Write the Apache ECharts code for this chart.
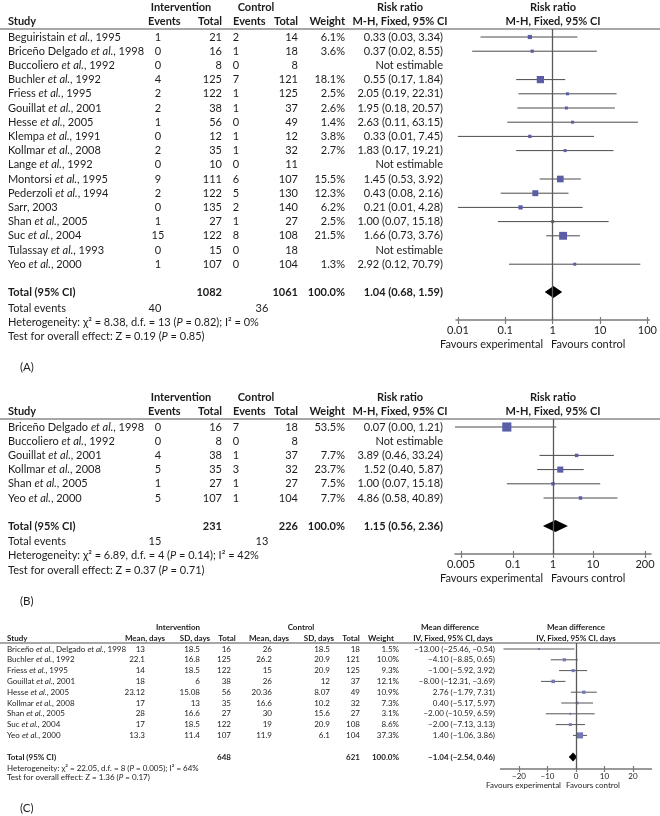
<!DOCTYPE html>
<html><head><meta charset="utf-8">
<script src="https://cdn.jsdelivr.net/npm/echarts@6/dist/echarts.min.js"></script>
<style>html,body{margin:0;padding:0;background:#fff}#c{width:660px;height:816px}</style>
</head><body><div id="c"></div><script>
// ================= DATA =================
// ---- Panel A ----
const studiesA = ['Beguiristain et al., 1995','Briceño Delgado et al., 1998','Buccoliero et al., 1992','Buchler et al., 1992','Friess et al., 1995','Gouillat et al., 2001','Hesse et al., 2005','Klempa et al., 1991','Kollmar et al., 2008','Lange et al., 1992','Montorsi et al., 1995','Pederzoli et al., 1994','Sarr, 2003','Shan et al., 2005','Suc et al., 2004','Tulassay et al., 1993','Yeo et al., 2000'];
const intEventsA = [1,0,0,4,2,2,1,0,2,0,9,2,0,1,15,0,1];
const intTotalA = [21,16,8,125,122,38,56,12,35,10,111,122,135,27,122,15,107];
const ctrlEventsA = [2,1,0,7,1,1,0,1,1,0,6,5,2,1,8,0,0];
const ctrlTotalA = [14,18,8,121,125,37,49,12,32,11,107,130,140,27,108,18,104];
const weightA = [6.1,3.6,null,18.1,2.5,2.6,1.4,3.8,2.7,null,15.5,12.3,6.2,2.5,21.5,null,1.3];
const rrA = [0.33,0.37,null,0.55,2.05,1.95,2.63,0.33,1.83,null,1.45,0.43,0.21,1.00,1.66,null,2.92];
const loA = [0.03,0.02,null,0.17,0.19,0.18,0.11,0.01,0.17,null,0.53,0.08,0.01,0.07,0.73,null,0.12];
const hiA = [3.34,8.55,null,1.84,22.31,20.57,63.15,7.45,19.21,null,3.92,2.16,4.28,15.18,3.76,null,70.79];
const totalsA = [1082, 1061];
const totalEventsA = [40, 36];
const pooledA = [1.04, 0.68, 1.59];
const hetA = 'Heterogeneity: χ² = 8.38, d.f. = 13 (P = 0.82); I² = 0%';
const testA = 'Test for overall effect: Z = 0.19 (P = 0.85)';
const tickValuesA = [0.01, 0.1, 1, 10, 100];
const tickLabelsA = ['0.01','0.1','1','10','100'];

// ---- Panel B ----
const studiesB = ['Briceño Delgado et al., 1998','Buccoliero et al., 1992','Gouillat et al., 2001','Kollmar et al., 2008','Shan et al., 2005','Yeo et al., 2000'];
const intEventsB = [0,0,4,5,1,5];
const intTotalB = [16,8,38,35,27,107];
const ctrlEventsB = [7,0,1,3,1,1];
const ctrlTotalB = [18,8,37,32,27,104];
const weightB = [53.5,null,7.7,23.7,7.5,7.7];
const rrB = [0.07,null,3.89,1.52,1.00,4.86];
const loB = [0.00,null,0.46,0.40,0.07,0.58];
const hiB = [1.21,null,33.24,5.87,15.18,40.89];
const totalsB = [231, 226];
const totalEventsB = [15, 13];
const pooledB = [1.15, 0.56, 2.36];
const hetB = 'Heterogeneity: χ² = 6.89, d.f. = 4 (P = 0.14); I² = 42%';
const testB = 'Test for overall effect: Z = 0.37 (P = 0.71)';
const tickValuesB = [0.005, 0.1, 1, 10, 200];
const tickLabelsB = ['0.005','0.1','1','10','200'];

// ---- Panel C ----
const studiesC = ['Briceño et al., Delgado et al., 1998','Buchler et al., 1992','Friess et al., 1995','Gouillat et al., 2001','Hesse et al., 2005','Kollmar et al., 2008','Shan et al., 2005','Suc et al., 2004','Yeo et al., 2000'];
const intMeanC = ['13','22.1','14','18','23.12','17','28','17','13.3'];
const intSDC = ['18.5','16.8','18.5','6','15.08','13','16.6','18.5','11.4'];
const intTotalC = [16,125,122,38,56,35,27,122,107];
const ctrlMeanC = ['26','26.2','15','26','20.36','16.6','30','19','11.9'];
const ctrlSDC = ['18.5','20.9','20.9','12','8.07','10.2','15.6','20.9','6.1'];
const ctrlTotalC = [18,121,125,37,49,32,27,108,104];
const weightC = [1.5,10.0,9.3,12.1,10.9,7.3,3.1,8.6,37.3];
const mdC = [-13.00,-4.10,-1.00,-8.00,2.76,0.40,-2.00,-2.00,1.40];
const loC = [-25.46,-8.85,-5.92,-12.31,-1.79,-5.17,-10.59,-7.13,-1.06];
const hiC = [-0.54,0.65,3.92,-3.69,7.31,5.97,6.59,3.13,3.86];
const totalsC = [648, 621];
const pooledC = [-1.04, -2.54, 0.46];
const hetC = 'Heterogeneity: χ² = 22.05, d.f. = 8 (P = 0.005); I² = 64%';
const testC = 'Test for overall effect: Z = 1.36 (P = 0.17)';
const tickValuesC = [-20, -10, 0, 10, 20];
const tickLabelsC = ['−20','−10','0','10','20'];

// ================= LAYOUT =================
const FONT = "Lato, 'Liberation Sans', sans-serif";
const TXT = '#1c1c1c';
const LA = {y0:37, pitch:14.2, top:0, bottom:385, lineY:29, axisY:320, h1:7, h2:21, totalY:292, eventsY:308, hetY:322, testY:336, favY:344, tagY:367,
  plotLeft:456, plotWidth:194, xmin:-2.04, xmax:2.04, fs:11, k:1.7, minSide:3};
const LB = {y0:427, pitch:14.2, top:385, bottom:616, lineY:419, axisY:554, h1:397, h2:411, totalY:526, eventsY:541, hetY:555, testY:570, favY:578, tagY:601,
  plotLeft:455, plotWidth:196, xmin:-2.45, xmax:2.45, fs:11, k:1.25, minSide:3};
const LC = {y0:649, pitch:10.8, top:616, bottom:816, lineY:643, axisY:769, h1:627, h2:638, totalY:757, hetY:768, testY:777, favY:785, tagY:808,
  plotLeft:500.5, plotWidth:151, xmin:-26.5, xmax:26.5, fs:8, k:1.0, minSide:2};
const colsRR = {study:8, ie:158, it:222, ce:236, ct:298, w:345, ci:443, hInt:181, hCtrl:256, hRR:400, hPlot:553, hEv1:148, hEv2:233, ev1:155, ev2:262};
const colsC = {study:7, im:145, is:200, it:231, cm:272, cs:330, ct:360, w:399, ci:495,
  hInt:178, hCtrl:301, hMD:450, hPlot:576, hIm:145, hIs:195, hIt:227, hCm:269, hCs:319, hCt:351, hW:381, hCI:453};

// ================= HELPERS =================
const rowOf = (L, y) => (y - L.y0) / L.pitch;
const richify = s => s.replace(/et al\./g, '{i|et al.}').replace(/\(P = /g, '({i|P} = ');
const f2 = v => (v < 0 ? '−' : '') + Math.abs(v).toFixed(2);
const ciText = (e, l, h) => `${f2(e)} (${f2(l)}, ${f2(h)})`;

function makeText(items, L) {
  return (x, y, text, align, o = {}) => items.push({kind:'text', x, row: rowOf(L, y), text, align, size: o.size || L.fs, bold: !!o.bold});
}

function buildRR(L, C, d) {
  const items = [];
  const t = makeText(items, L);
  const B = {bold:true};
  t(C.hInt, L.h1, 'Intervention', 'center', B);
  t(C.hCtrl, L.h1, 'Control', 'center', B);
  t(C.hRR, L.h1, 'Risk ratio', 'center', B);
  t(C.hPlot, L.h1, 'Risk ratio', 'center', B);
  t(C.study, L.h2, 'Study', 'left', B);
  t(C.hEv1, L.h2, 'Events', 'left', B);
  t(C.it, L.h2, 'Total', 'right', B);
  t(C.hEv2, L.h2, 'Events', 'left', B);
  t(C.ct, L.h2, 'Total', 'right', B);
  t(C.w, L.h2, 'Weight', 'right', B);
  t(C.hRR, L.h2, 'M-H, Fixed, 95% CI', 'center', B);
  t(C.hPlot, L.h2, 'M-H, Fixed, 95% CI', 'center', B);
  items.push({kind:'line', x:0, x2:660, row: rowOf(L, L.lineY)});
  d.studies.forEach((s, i) => {
    const y = L.y0 + i * L.pitch;
    t(C.study, y, s, 'left');
    t(C.ie, y, String(d.ie[i]), 'center');
    t(C.it, y, String(d.it[i]), 'right');
    t(C.ce, y, String(d.ce[i]), 'center');
    t(C.ct, y, String(d.ct[i]), 'right');
    if (d.w[i] != null) t(C.w, y, d.w[i].toFixed(1) + '%', 'right');
    t(C.ci, y, d.rr[i] == null ? 'Not estimable' : ciText(d.rr[i], d.lo[i], d.hi[i]), 'right');
  });
  t(C.study, L.totalY, 'Total (95% CI)', 'left', B);
  t(C.it, L.totalY, String(d.totals[0]), 'right', B);
  t(C.ct, L.totalY, String(d.totals[1]), 'right', B);
  t(C.w, L.totalY, '100.0%', 'right', B);
  t(C.ci, L.totalY, ciText(d.pooled[0], d.pooled[1], d.pooled[2]), 'right', B);
  t(C.study, L.eventsY, 'Total events', 'left');
  t(C.ev1, L.eventsY, String(d.events[0]), 'center');
  t(C.ev2, L.eventsY, String(d.events[1]), 'center');
  t(C.study, L.hetY, d.het, 'left');
  t(C.study, L.testY, d.test, 'left');
  t(543, L.favY, 'Favours experimental', 'right');
  t(551, L.favY, 'Favours control', 'left');
  t(20, L.tagY, d.tag, 'left', {size: 11.5});
  return items;
}

function buildC(L, C) {
  const items = [];
  const t = makeText(items, L);
  const B = {bold:true};
  t(C.hInt, L.h1, 'Intervention', 'center', B);
  t(C.hCtrl, L.h1, 'Control', 'center', B);
  t(C.hMD, L.h1, 'Mean difference', 'center', B);
  t(C.hPlot, L.h1, 'Mean difference', 'center', B);
  t(C.study, L.h2, 'Study', 'left', B);
  t(C.hIm, L.h2, 'Mean, days', 'center', B);
  t(C.hIs, L.h2, 'SD, days', 'center', B);
  t(C.hIt, L.h2, 'Total', 'center', B);
  t(C.hCm, L.h2, 'Mean, days', 'center', B);
  t(C.hCs, L.h2, 'SD, days', 'center', B);
  t(C.hCt, L.h2, 'Total', 'center', B);
  t(C.hW, L.h2, 'Weight', 'center', B);
  t(C.hCI, L.h2, 'IV, Fixed, 95% CI, days', 'center', B);
  t(C.hPlot, L.h2, 'IV, Fixed, 95% CI, days', 'center', B);
  items.push({kind:'line', x:0, x2:660, row: rowOf(L, L.lineY)});
  studiesC.forEach((s, i) => {
    const y = L.y0 + i * L.pitch;
    t(C.study, y, s, 'left');
    t(C.im, y, intMeanC[i], 'right');
    t(C.is, y, intSDC[i], 'right');
    t(C.it, y, String(intTotalC[i]), 'right');
    t(C.cm, y, ctrlMeanC[i], 'right');
    t(C.cs, y, ctrlSDC[i], 'right');
    t(C.ct, y, String(ctrlTotalC[i]), 'right');
    t(C.w, y, weightC[i].toFixed(1) + '%', 'right');
    t(C.ci, y, ciText(mdC[i], loC[i], hiC[i]), 'right');
  });
  t(C.study, L.totalY, 'Total (95% CI)', 'left', B);
  t(C.it, L.totalY, String(totalsC[0]), 'right', B);
  t(C.ct, L.totalY, String(totalsC[1]), 'right', B);
  t(C.w, L.totalY, '100.0%', 'right', B);
  t(C.ci, L.totalY, ciText(pooledC[0], pooledC[1], pooledC[2]), 'right', B);
  t(C.study, L.hetY, hetC, 'left');
  t(C.study, L.testY, testC, 'left');
  t(561, L.favY, 'Favours experimental', 'right');
  t(566, L.favY, 'Favours control', 'left');
  t(20, L.tagY, '(C)', 'left', {size: 11.5});
  return items;
}

function tableRender(items) {
  return function (params, api) {
    const it = items[params.dataIndex];
    if (it.kind === 'line') {
      const a = api.coord([it.x, it.row]);
      const b = api.coord([it.x2, it.row]);
      return {type:'line', shape:{x1:a[0], y1:a[1], x2:b[0], y2:b[1]}, style:{stroke:'#8a8a8a', lineWidth:1.6}};
    }
    const p = api.coord([it.x, it.row]);
    const w = it.bold ? 'bold' : 'normal';
    return {type:'text', x:p[0], y:p[1], style:{
      text: richify(it.text), fill: TXT, fontSize: it.size, fontFamily: FONT, fontWeight: w,
      align: it.align, verticalAlign: 'middle', textAlign: it.align, textVerticalAlign: 'middle',
      rich: {i: {fontStyle:'italic', fontSize: it.size, fontFamily: FONT, fontWeight: w, fill: TXT}}
    }};
  };
}

function buildForest(L, est, lo, hi, w, pooled, tf) {
  const items = [];
  est.forEach((e, i) => {
    if (e == null) return;
    items.push({kind:'study', est: tf(e), row: i, lo: tf(lo[i]), hi: tf(hi[i]), w: w[i]});
  });
  items.push({kind:'pool', est: tf(pooled[0]), row: rowOf(L, L.totalY), lo: tf(pooled[1]), hi: tf(pooled[2])});
  return items;
}

function forestRender(items, L, sq, ln, dh) {
  return function (params, api) {
    const it = items[params.dataIndex];
    const lo = Math.max(it.lo, L.xmin), hi = Math.min(it.hi, L.xmax);
    const c = api.coord([it.est, it.row]);
    const l = api.coord([lo, it.row]);
    const r = api.coord([hi, it.row]);
    if (it.kind === 'pool') {
      return {type:'polygon', shape:{points:[[l[0], c[1]], [c[0], c[1] - dh], [r[0], c[1]], [c[0], c[1] + dh]]}, style:{fill:'#000'}};
    }
    const s = Math.max(L.minSide, L.k * Math.sqrt(it.w));
    return {type:'group', children:[
      {type:'line', shape:{x1:l[0], y1:c[1], x2:r[0], y2:c[1]}, style:{stroke:ln, lineWidth:1}},
      {type:'rect', shape:{x:c[0] - s / 2, y:c[1] - s / 2, width:s, height:s}, style:{fill:sq}}
    ]};
  };
}

// ================= BUILD =================
const lg = v => Math.log10(v);
const dataA = {studies:studiesA, ie:intEventsA, it:intTotalA, ce:ctrlEventsA, ct:ctrlTotalA, w:weightA, rr:rrA, lo:loA, hi:hiA,
  totals:totalsA, events:totalEventsA, pooled:pooledA, het:hetA, test:testA, tag:'(A)'};
const dataB = {studies:studiesB, ie:intEventsB, it:intTotalB, ce:ctrlEventsB, ct:ctrlTotalB, w:weightB, rr:rrB, lo:loB, hi:hiB,
  totals:totalsB, events:totalEventsB, pooled:pooledB, het:hetB, test:testB, tag:'(B)'};
const tabA = buildRR(LA, colsRR, dataA);
const tabB = buildRR(LB, colsRR, dataB);
const tabC = buildC(LC, colsC);
const forA = buildForest(LA, rrA, loA, hiA, weightA, pooledA, lg);
const forB = buildForest(LB, rrB, loB, hiB, weightB, pooledB, lg);
const forC = buildForest(LC, mdC, loC, hiC, weightC, pooledC, v => v);

const grids = [], xAxes = [], yAxes = [], series = [];
function addPanel(L, tab, forest, tickVals, tickLabs, tf, opts) {
  const gT = grids.length;
  grids.push({left:0, top:L.top, width:660, height:L.bottom - L.top});
  const xT = xAxes.length;
  xAxes.push({gridIndex:gT, type:'value', min:0, max:660, show:false});
  const yT = yAxes.length;
  yAxes.push({gridIndex:gT, type:'value', inverse:true, min:rowOf(L, L.top), max:rowOf(L, L.bottom), show:false});
  const gF = grids.length;
  grids.push({left:L.plotLeft, top:L.lineY, width:L.plotWidth, height:L.axisY - L.lineY});
  const tv = tickVals.map(tf);
  const labelFor = v => { const j = tv.findIndex(x => Math.abs(x - v) < 1e-6); return j < 0 ? '' : tickLabs[j]; };
  const xF = xAxes.length;
  xAxes.push({gridIndex:gF, type:'value', min:L.xmin, max:L.xmax, position:'bottom',
    axisLine:{show:true, onZero:false, lineStyle:{color:'#7a7a7a', width:1.5}},
    axisTick:{show:true, customValues:tv, length:opts.tickOut, lineStyle:{color:'#7a7a7a', width:1.2}},
    axisLabel:{show:true, customValues:tv, formatter:labelFor, fontSize:L.fs, fontFamily:FONT, color:TXT, margin:opts.margin},
    splitLine:{show:false}});
  xAxes.push({gridIndex:gF, type:'value', min:L.xmin, max:L.xmax, position:'bottom', offset:0,
    axisLine:{show:false, onZero:false},
    axisTick:{show:true, inside:true, customValues:tv, length:opts.tickIn, lineStyle:{color:'#7a7a7a', width:1.2}},
    axisLabel:{show:false}, splitLine:{show:false}});
  const yF = yAxes.length;
  yAxes.push({gridIndex:gF, type:'value', inverse:true, min:rowOf(L, L.lineY), max:rowOf(L, L.axisY), show:false});
  series.push({type:'custom', xAxisIndex:xT, yAxisIndex:yT, clip:false, silent:true,
    data: tab.map(o => [o.x, o.row]), renderItem: tableRender(tab)});
  series.push({type:'custom', xAxisIndex:xF, yAxisIndex:yF, clip:false, silent:true,
    data: forest.map(o => [o.est, o.row]), renderItem: forestRender(forest, L, opts.sq, opts.ln, opts.dh),
    markLine:{silent:true, symbol:'none', label:{show:false}, lineStyle:{color:'#5a5a5a', width:1.3, type:'solid'}, data:[{xAxis:0}]}});
}
addPanel(LA, tabA, forA, tickValuesA, tickLabelsA, lg, {sq:'#5b5ea6', ln:'#4a4a4a', dh:6, tickOut:4, tickIn:3, margin:5});
addPanel(LB, tabB, forB, tickValuesB, tickLabelsB, lg, {sq:'#5b5ea6', ln:'#4a4a4a', dh:6, tickOut:4, tickIn:3, margin:5});
addPanel(LC, tabC, forC, tickValuesC, tickLabelsC, v => v, {sq:'#7477b8', ln:'#555', dh:4.5, tickOut:3, tickIn:3, margin:3});

const chart = echarts.init(document.getElementById('c'), null, {renderer:'canvas'});
chart.setOption({animation:false, backgroundColor:'#fff', textStyle:{fontFamily:FONT},
  grid:grids, xAxis:xAxes, yAxis:yAxes, series:series});
</script></body></html>
